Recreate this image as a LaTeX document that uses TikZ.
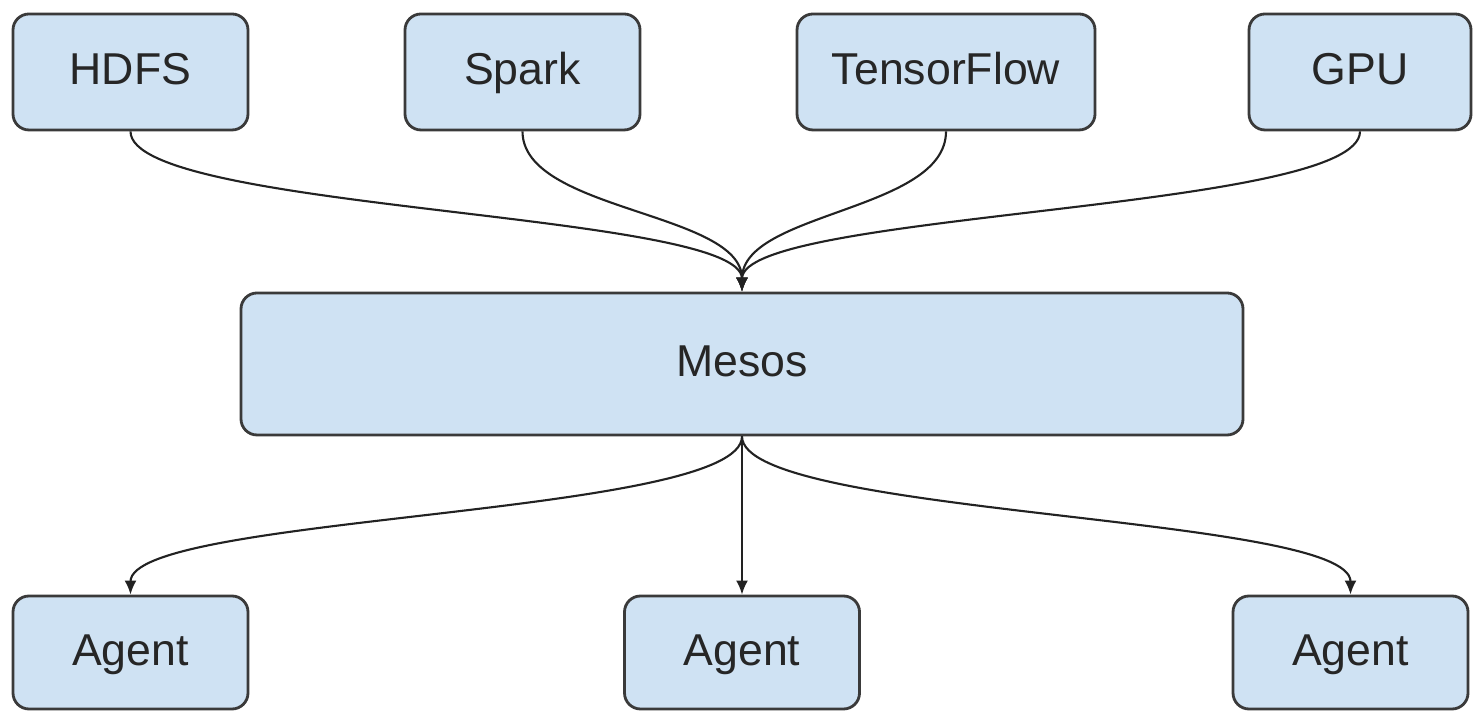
\documentclass[tikz,border=0pt]{standalone}
\usepackage{fontspec}
\setmainfont{Liberation Sans}
\usetikzlibrary{arrows.meta}
\definecolor{boxfill}{HTML}{CFE2F3}
\definecolor{boxline}{HTML}{3A3A3A}
\definecolor{linkgray}{HTML}{222222}
\tikzset{every node/.append style={font=\fontsize{12.7}{15}\selectfont}}

\begin{document}
\begin{tikzpicture}[>={Latex[length=1.4mm,width=1.2mm]},
  box/.style={draw=boxline,fill=boxfill,line width=.8pt,rounded corners=1.6mm,
    minimum height=1.16cm,text height=.72em,text depth=0pt,text=black!85},
  link/.style={->,linkgray,line width=.6pt}]
\useasboundingbox (0,0) rectangle (14.73,7.11);
% frameworks on top
\node[box,minimum width=2.35cm] (hdfs) at (1.305,6.39) {HDFS};
\node[box,minimum width=2.35cm] (spark) at (5.225,6.39) {Spark};
\node[box,minimum width=2.98cm] (tf) at (9.46,6.39) {TensorFlow};
\node[box,minimum width=2.22cm] (gpu) at (13.60,6.39) {GPU};
% master
\node[box,minimum width=10.02cm,minimum height=1.42cm] (mesos) at (7.42,3.47) {Mesos};
% agents
\node[box,minimum width=2.35cm,minimum height=1.13cm] (agl) at (1.305,.585) {Agent};
\node[box,minimum width=2.35cm,minimum height=1.13cm] (agm) at (7.42,.585) {Agent};
\node[box,minimum width=2.35cm,minimum height=1.13cm] (agr) at (13.505,.585) {Agent};
\foreach \n in {hdfs,spark,tf,gpu}
  \draw[link] (\n.south) .. controls +(0,-.8) and +(0,.8) .. (mesos.north);
\foreach \n in {agl,agm,agr}
  \draw[link] (mesos.south) .. controls +(0,-.8) and +(0,.8) .. (\n.north);
\end{tikzpicture}
\end{document}
